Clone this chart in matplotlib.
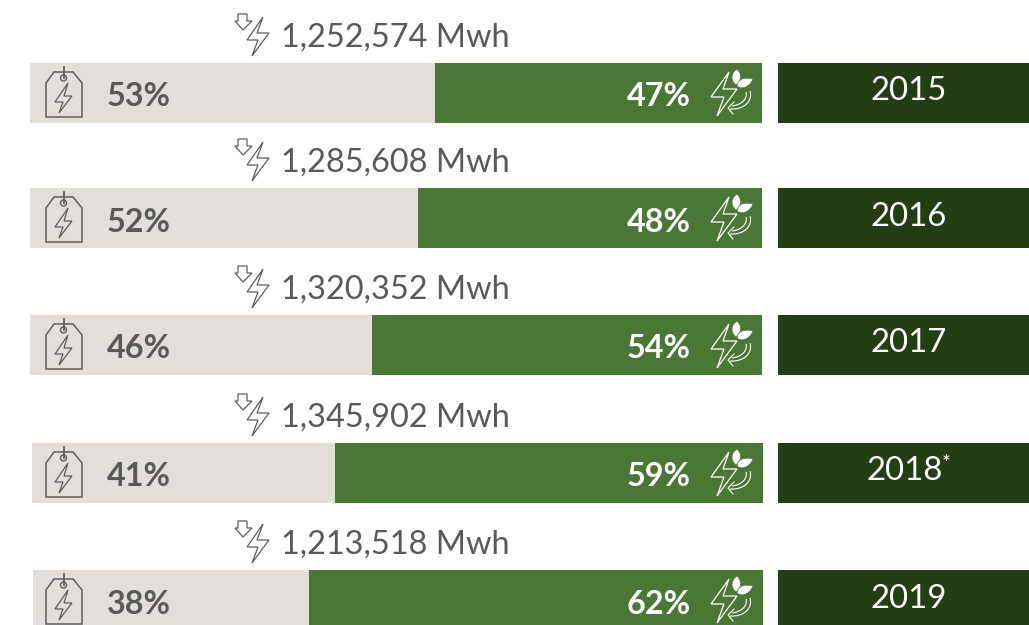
import matplotlib
matplotlib.use("Agg")
import matplotlib.pyplot as plt
from matplotlib.patches import Circle, PathPatch, Polygon
from matplotlib.path import Path

plt.rcParams['font.family'] = ['Lato', 'DejaVu Sans']

# data
years = ['2015', '2016', '2017', '2018', '2019']
mwh_labels = ['1,252,574 Mwh', '1,285,608 Mwh', '1,320,352 Mwh', '1,345,902 Mwh', '1,213,518 Mwh']
grey_pct = [53, 52, 46, 41, 38]
green_pct = [47, 48, 54, 59, 62]
# drawn bar lengths in the picture are not quite proportional to the labels
grey_len = [405, 388, 342, 303, 276]
green_len = [327, 344, 390, 428, 454]
bar_start = [30, 30, 30, 32, 33]
bar_top = [63, 188, 315, 443, 570]
bar_height = [60, 60, 60, 60, 55]

GREY = '#E1DFD8'
GREEN = '#4B7736'
DARK = '#233D15'
TEXT = '#595959'
LINE = '#5E5E5E'

LEAF_CODES = [Path.MOVETO, Path.CURVE4, Path.CURVE4, Path.CURVE4, Path.CURVE4, Path.CURVE4, Path.CURVE4]
ARC_CODES = [Path.MOVETO, Path.CURVE4, Path.CURVE4, Path.CURVE4]


def outline(ax, pts, dy, color, lw=0.9):
    pts = [(x, y + dy) for x, y in pts]
    ax.add_patch(Polygon(pts, closed=True, facecolor='none', edgecolor=color, lw=lw, zorder=4))


def curve(ax, verts, codes, dy, color, lw=0.8, fill='none'):
    verts = [(x, y + dy) for x, y in verts]
    ax.add_patch(PathPatch(Path(verts, codes), facecolor=fill, edgecolor=color, lw=lw, zorder=5))


def draw_top_icon(ax, dy):
    # arrow + bolt above each bar
    outline(ax, [(238, 14), (247, 14), (247, 21), (252, 21), (243, 30), (235, 21), (238, 21)], dy, LINE)
    outline(ax, [(263, 17), (247, 40), (258, 40), (252, 56), (269, 33), (257, 33)], dy, LINE)


def draw_tag_icon(ax, dy):
    outline(ax, [(46, 117), (46, 83), (54, 72), (73, 72), (82, 83), (82, 117)], dy, LINE, lw=1.1)
    ax.add_patch(Circle((63.5, 78 + dy), 3, facecolor='none', edgecolor=LINE, lw=1.0, zorder=5))
    ax.plot([64, 64], [67 + dy, 78 + dy], color=LINE, lw=1.3, zorder=5)
    outline(ax, [(68, 83), (55, 102), (63, 102), (59, 113), (72, 96), (64, 96)], dy, LINE)


def draw_leaf_icon(ax, dy):
    outline(ax, [(729, 72), (711, 97), (724, 97), (717, 116), (737, 89), (723, 89)], dy, 'white')
    curve(ax, [(737, 69), (731, 73), (730, 80), (736, 85), (742, 80), (742, 74), (737, 69)], LEAF_CODES, dy, GREEN, lw=0.5, fill='white')
    curve(ax, [(737, 86), (738, 78), (746, 77), (753, 79), (751, 85), (743, 91), (737, 86)], LEAF_CODES, dy, GREEN, lw=0.5, fill='white')
    # return arrow
    curve(ax, [(750, 91), (753, 101), (744, 110), (730, 109)], ARC_CODES, dy, 'white')
    curve(ax, [(746, 92), (748, 99), (741, 105), (732, 106)], ARC_CODES, dy, 'white')
    ax.plot([734, 728, 733], [102 + dy, 108 + dy, 114 + dy], color='white', lw=0.8, zorder=5)


fig = plt.figure(figsize=(10.29, 6.25), dpi=100)
ax = fig.add_axes([0, 0, 1, 1])
ax.set_xlim(0, 1029)
ax.set_ylim(625, 0)
ax.axis('off')

centers = [t + h / 2 for t, h in zip(bar_top, bar_height)]
ax.barh(centers, grey_len, height=bar_height, left=bar_start, color=GREY, lw=0)
green_left = [s + g for s, g in zip(bar_start, grey_len)]
ax.barh(centers, green_len, height=bar_height, left=green_left, color=GREEN, lw=0)
ax.barh(centers, [251] * 5, height=bar_height, left=778, color=DARK, lw=0)

for i, top in enumerate(bar_top):
    dy = top - 63
    draw_top_icon(ax, dy)
    draw_tag_icon(ax, dy)
    draw_leaf_icon(ax, dy)
    ax.text(281, top - 25.5, mwh_labels[i], fontsize=23.4, color=TEXT, ha='left', va='center')
    ax.text(107, top + 34, f'{grey_pct[i]}%', fontsize=23.3, color=TEXT, weight='bold', ha='left', va='center')
    ax.text(690.5, top + 34, f'{green_pct[i]}%', fontsize=23.3, color='white', weight='bold', ha='right', va='center')
    if years[i] == '2018':
        ax.text(867, top + 28.5, years[i], fontsize=23.7, color='white', ha='left', va='center')
        ax.text(942, top + 21, '*', fontsize=15, color='white', ha='left', va='center')
    else:
        ax.text(908.5, top + 28.5, years[i], fontsize=23.7, color='white', ha='center', va='center')

fig.savefig('out.png', dpi=100, facecolor='white')
